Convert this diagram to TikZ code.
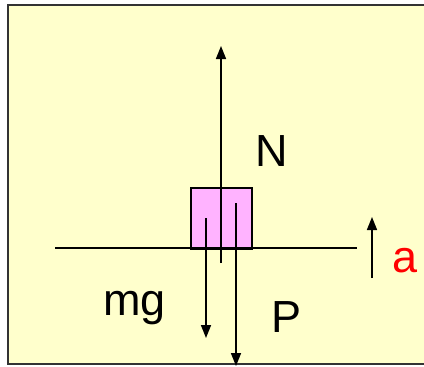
\documentclass[tikz,border=0pt]{standalone}
\usepackage{fontspec}
\setmainfont{Liberation Sans}
\usetikzlibrary{arrows.meta}
\definecolor{bgyellow}{RGB}{255,255,204}
\definecolor{boxpink}{RGB}{255,179,255}
\tikzset{
  force/.style={line width=1.6pt,-{Triangle[length=13pt,width=10pt]}},
  lbl/.style={font=\fontsize{45}{52}\selectfont,inner sep=0pt,anchor=base west}
}
\begin{document}
\begin{tikzpicture}[x=1pt,y=-1pt]
\useasboundingbox (0,0) rectangle (424,367);
\fill[bgyellow] (8,5) rectangle (430,364);
\draw[line width=1.5pt,black!80] (430,5) -- (8,5) -- (8,364) -- (430,364);
\node[draw=black,line width=1.5pt,fill=boxpink,minimum width=61pt,minimum height=61pt,inner sep=0pt] (blk) at (221.5,218.5) {};
\coordinate (gl) at (55,248);
\coordinate (gr) at (357,248);
\draw[line width=1.2pt] (gl) -- (gr);
\coordinate (ns) at (221,263);
\coordinate (ne) at (221,46);
\draw[force] (ns) -- (ne);
\coordinate (ms) at (206,218);
\coordinate (me) at (206,338);
\draw[force] (ms) -- (me);
\coordinate (ps) at (236,203);
\coordinate (pe) at (236,366);
\draw[force] (ps) -- (pe);
\coordinate (as) at (372,278);
\coordinate (ae) at (372,217);
\draw[force] (as) -- (ae);
\node[lbl] (N) at (255,166) {N};
\node[lbl] (mg) at (103,315) {mg};
\node[lbl] (P) at (271,332) {P};
\node[lbl,text=red] (a) at (392,272) {a};
\end{tikzpicture}
\end{document}
